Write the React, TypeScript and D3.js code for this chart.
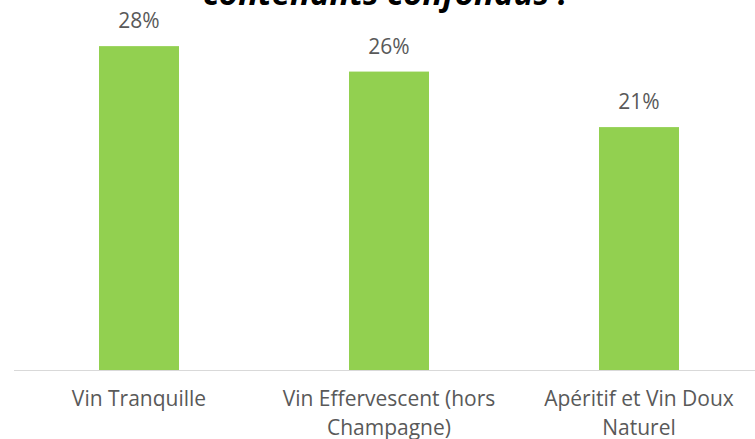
import React, { useEffect, useRef } from "react";
import * as d3 from "d3";

const categories = [
  ["Vin Tranquille"],
  ["Vin Effervescent (hors", "Champagne)"],
  ["Apéritif et Vin Doux", "Naturel"],
];
const values = [28, 25.8, 21];
const valueLabels = ["28%", "26%", "21%"];
const title = "contenants confondus :";

const width = 755;
const height = 439;
const font = "'Open Sans', sans-serif";

const App = () => {
  const svgRef = useRef<SVGSVGElement | null>(null);

  useEffect(() => {
    const svg = d3.select(svgRef.current);
    svg.selectAll("*").remove();

    const baseY = 370;

    const x = d3
      .scaleBand<number>()
      .domain(d3.range(values.length))
      .range([14, 764])
      .paddingInner(0.68)
      .paddingOuter(0.34);

    const y = d3.scaleLinear().domain([0, 30]).range([baseY, 23]);

    // title, cut off at the top edge
    svg
      .append("text")
      .attr("x", 385)
      .attr("y", 5)
      .attr("text-anchor", "middle")
      .style("font-family", font)
      .style("font-size", "33px")
      .style("font-weight", "bold")
      .style("font-style", "italic")
      .style("fill", "#000")
      .text(title);

    // bars
    svg
      .selectAll("rect.bar")
      .data(values)
      .join("rect")
      .attr("class", "bar")
      .attr("x", (_, i) => x(i)!)
      .attr("y", (d) => y(d))
      .attr("width", x.bandwidth())
      .attr("height", (d) => baseY - y(d))
      .attr("fill", "#92D050");

    // baseline
    svg
      .append("line")
      .attr("x1", 14)
      .attr("x2", width)
      .attr("y1", baseY + 0.5)
      .attr("y2", baseY + 0.5)
      .attr("stroke", "#D9D9D9")
      .attr("stroke-width", 1);

    // value labels
    svg
      .selectAll("text.val")
      .data(values)
      .join("text")
      .attr("class", "val")
      .attr("x", (_, i) => x(i)! + x.bandwidth() / 2)
      .attr("y", (d) => y(d) - 18)
      .attr("text-anchor", "middle")
      .style("font-family", font)
      .style("font-size", "21px")
      .style("fill", "#595959")
      .text((_, i) => valueLabels[i]);

    // category labels
    const cat = svg
      .selectAll("text.cat")
      .data(categories)
      .join("text")
      .attr("class", "cat")
      .attr("x", (_, i) => x(i)! + x.bandwidth() / 2)
      .attr("y", 406)
      .attr("text-anchor", "middle")
      .style("font-family", font)
      .style("font-size", "21px")
      .style("fill", "#595959");

    cat
      .selectAll("tspan")
      .data((d) => d)
      .join("tspan")
      .attr("x", function () {
        return d3.select(this.parentNode as SVGTextElement).attr("x");
      })
      .attr("dy", (_, j) => (j === 0 ? 0 : 29))
      .text((d) => d);
  }, []);

  return (
    <svg
      ref={svgRef}
      width={width}
      height={height}
      style={{ position: "absolute", left: 0, top: 0, background: "#fff" }}
    />
  );
};

export default App;
